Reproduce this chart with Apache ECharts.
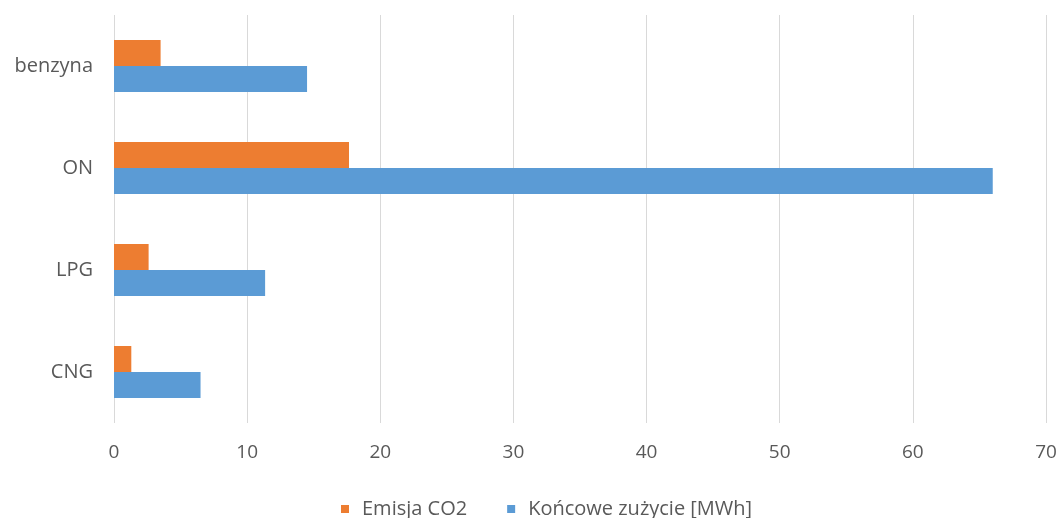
<!DOCTYPE html>
<html>
<head>
<meta charset="utf-8">
<script src="https://cdn.jsdelivr.net/npm/echarts@6/dist/echarts.min.js"></script>
<style>html,body{margin:0;padding:0;background:#fff}#c{width:1061px;height:518px}</style>
</head>
<body>
<div id="c"></div>
<script>
const categories = ["benzyna", "ON", "LPG", "CNG"];
const emisjaCO2 = [3.5, 17.65, 2.6, 1.3];
const zuzycie = [14.5, 66.0, 11.35, 6.5];
const seriesNames = ["Emisja CO2", "Końcowe zużycie [MWh]"];

const chart = echarts.init(document.getElementById('c'));
const font = "'Open Sans', 'Noto Sans', sans-serif";
chart.setOption({
  animation: false,
  backgroundColor: '#fff',
  grid: { left: 114, right: 15, top: 15, bottom: 95, containLabel: false },
  legend: {
    top: 494, left: 336, itemWidth: 8, itemHeight: 8, itemGap: 40,
    icon: 'rect',
    textStyle: { color: '#595959', fontSize: 20, fontFamily: font, padding: [0, 0, 0, 8] },
    data: seriesNames
  },
  xAxis: {
    type: 'value', min: 0, max: 70, interval: 10,
    axisLine: { show: false }, axisTick: { show: false },
    splitLine: { lineStyle: { color: '#D9D9D9', width: 1 } },
    axisLabel: { color: '#595959', fontSize: 19, fontFamily: font, margin: 20 }
  },
  yAxis: {
    type: 'category', data: categories, inverse: true,
    axisLine: { show: false }, axisTick: { show: false },
    axisLabel: { color: '#595959', fontSize: 20, fontFamily: font, margin: 21 }
  },
  series: [
    { name: seriesNames[0], type: 'bar', data: emisjaCO2, barWidth: 26, barGap: '0%',
      itemStyle: { color: '#ED7D31' } },
    { name: seriesNames[1], type: 'bar', data: zuzycie, barWidth: 26, barGap: '0%',
      itemStyle: { color: '#5B9BD5' } }
  ]
});
</script>
</body>
</html>
